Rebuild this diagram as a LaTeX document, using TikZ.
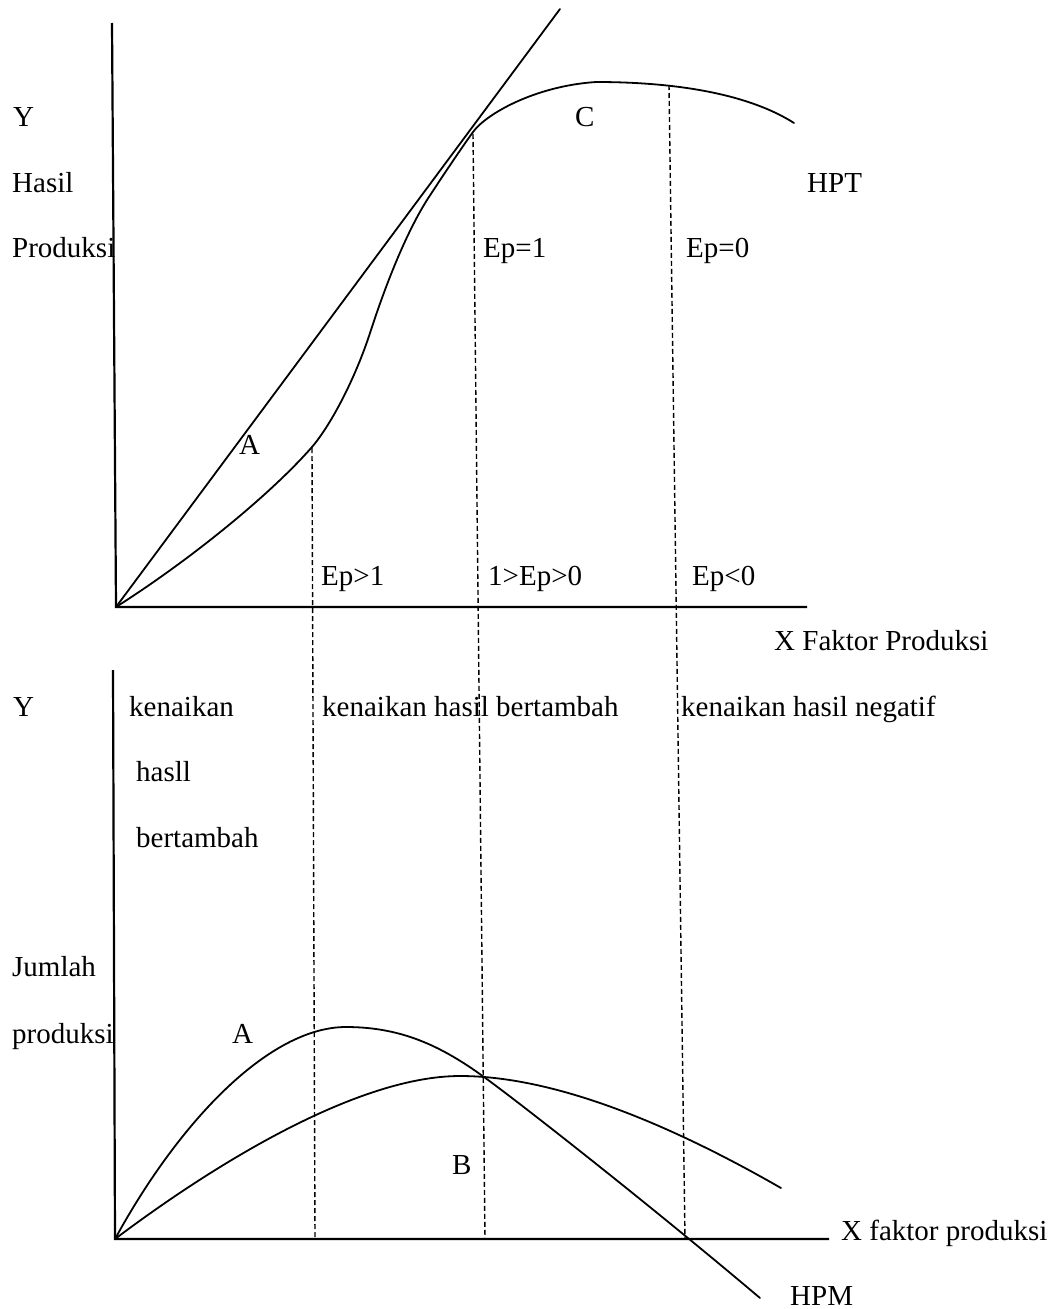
\documentclass[tikz,border=0pt]{standalone}
\usepackage{fontspec}
\setmainfont{Liberation Serif}
\begin{document}
\begin{tikzpicture}[x=1pt,y=-1pt,
  lbl/.style={anchor=base west, inner sep=0pt, font=\fontsize{29}{34}\selectfont},
  axisline/.style={line width=2.2pt},
  curveline/.style={line width=1.8pt, line join=round, line cap=round},
  guide/.style={line width=1.4pt, dash pattern=on 5pt off 3pt}]
\useasboundingbox (0,0) rectangle (1054,1309);

% ---------- coordinates ----------
\coordinate (O1) at (116,607);
\coordinate (Ytop1) at (112,23);
\coordinate (Xend1) at (807,607);
\coordinate (Ltop) at (560,9);
\coordinate (O2) at (115,1239);
\coordinate (Ytop2) at (113,670);
\coordinate (Xend2) at (829,1239);
\coordinate (D1t) at (312,448);
\coordinate (D1b) at (315,1239);
\coordinate (D2t) at (473,134);
\coordinate (D2b) at (485,1239);
\coordinate (D3t) at (669,85);
\coordinate (D3b) at (685,1239);
\coordinate (Tend) at (794,123);
\coordinate (Mpk) at (346,1027);
\coordinate (Bx) at (484,1077);
\coordinate (Mend) at (760,1298);
\coordinate (Apk) at (460,1076);
\coordinate (Aend) at (781,1188);

% ---------- dashed guides ----------
\draw[guide] (D1t) -- (D1b);
\draw[guide] (D2t) -- (D2b);
\draw[guide] (D3t) -- (D3b);

% ---------- top panel ----------
\draw[axisline] (Ytop1) -- (O1) -- (Xend1);
\draw[curveline] (O1) -- (Ltop);
\draw[curveline] (O1)
  .. controls (190,560) and (270,495) .. (312,447)
  .. controls (330,426) and (355,380) .. (371,330)
  .. controls (385,287) and (405,235) .. (427,200)
  .. controls (440,180) and (460,150) .. (473,132)
  .. controls (486,114) and (535,86) .. (596,82)
  .. controls (680,82) and (750,95) .. (Tend);

% ---------- bottom panel ----------
\draw[axisline] (Ytop2) -- (O2) -- (Xend2);
\draw[curveline] (O2)
  .. controls (180,1120) and (270,1027) .. (Mpk)
  .. controls (400,1027) and (440,1045) .. (Bx)
  .. controls (520,1103) and (650,1205) .. (Mend);
\draw[curveline] (O2)
  .. controls (220,1160) and (360,1076) .. (Apk)
  .. controls (560,1076) and (680,1130) .. (Aend);

% ---------- labels top ----------
\node[lbl] (y1) at (13,126) {Y};
\node[lbl] (hasil) at (12,192) {Hasil};
\node[lbl] (prod1) at (12,257) {Produksi};
\node[lbl] (c) at (575,126) {C};
\node[lbl] (hpt) at (807,192) {HPT};
\node[lbl] (ep1) at (483,257) {Ep=1};
\node[lbl] (ep0) at (686,257) {Ep=0};
\node[lbl] (a1) at (239,454) {A};
\node[lbl] (epg1) at (321,585) {Ep>1};
\node[lbl] (epmid) at (488,585) {1>Ep>0};
\node[lbl] (epl0) at (692,585) {Ep<0};
\node[lbl] (xf1) at (774,650) {X Faktor Produksi};

% ---------- labels bottom ----------
\node[lbl] (y2) at (13,716) {Y};
\node[lbl] (ken1) at (129,716) {kenaikan};
\node[lbl] (hasll) at (136,781) {hasll};
\node[lbl] (bert) at (136,847) {bertambah};
\node[lbl] (ken2) at (322,716) {kenaikan hasil bertambah};
\node[lbl] (ken3) at (681,716) {kenaikan hasil negatif};
\node[lbl] (jumlah) at (12,976) {Jumlah};
\node[lbl] (prod2) at (12,1043) {produksi};
\node[lbl] (a2) at (232,1043) {A};
\node[lbl] (b) at (452,1174) {B};
\node[lbl] (xf2) at (841,1240) {X faktor produksi};
\node[lbl] (hpm) at (790,1305) {HPM};
\end{tikzpicture}
\end{document}
